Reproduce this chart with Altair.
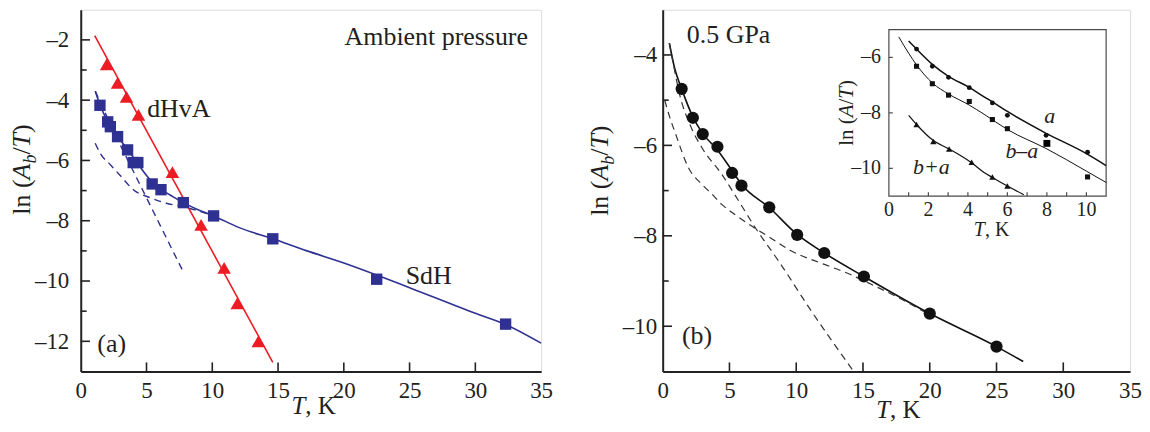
import altair as alt
import pandas as pd

FONT = "Liberation Serif"
TXT = "#231f20"
RED = "#ec1c24"
BLUE = "#2e3192"
INK = "#111111"
DASHC = "#333333"
AXC = "#222222"

# ---------------- panel (a): ambient pressure ----------------
a_dhva_T = [1.97, 2.80, 3.48, 4.39, 6.97, 9.15, 10.90, 11.90, 13.50]
a_dhva_v = [-2.81, -3.43, -3.89, -4.49, -6.39, -8.14, -9.56, -10.74, -12.00]
a_dhva_fit_T = [1.06, 14.60]
a_dhva_fit_v = [-1.86, -12.70]
a_sdh_T = [1.46, 2.05, 2.25, 2.80, 3.56, 3.99, 4.34, 5.43, 6.10, 7.80, 10.10, 14.60, 22.50, 32.30]
a_sdh_v = [-4.17, -4.72, -4.88, -5.21, -5.65, -6.07, -6.07, -6.78, -6.97, -7.40, -7.84, -8.60, -9.94, -11.43]
a_sdh_fit_T = [1.11, 1.46, 2.10, 2.80, 3.56, 4.20, 5.00, 5.43, 6.10, 7.00, 7.80, 9.00, 10.10,
               12.00, 14.60, 17.20, 20.00, 22.50, 25.00, 30.00, 32.30, 35.00]
a_sdh_fit_v = [-3.71, -4.15, -4.75, -5.20, -5.63, -6.02, -6.50, -6.72, -6.95, -7.20, -7.40, -7.65, -7.84,
               -8.22, -8.60, -9.00, -9.40, -9.80, -10.22, -11.07, -11.44, -12.06]
a_comp1_T = [1.10, 1.60, 2.20, 2.80, 4.00, 5.00, 6.00, 7.00, 7.80]
a_comp1_v = [-3.70, -4.18, -4.74, -5.30, -6.36, -7.24, -8.12, -9.00, -9.70]
a_comp2_T = [1.10, 1.50, 2.27, 3.00, 4.00, 5.30, 6.50, 7.60, 9.00, 10.00]
a_comp2_v = [-5.43, -5.78, -6.15, -6.50, -6.97, -7.24, -7.42, -7.52, -7.68, -7.82]

a_xticks = [0, 5, 10, 15, 20, 25, 30, 35]
a_yticks = [-2, -4, -6, -8, -10, -12]
a_yminor = [-3, -5, -7, -9, -11]

# ---------------- panel (b): 0.5 GPa ----------------
b_T = [1.42, 2.26, 3.00, 4.10, 5.20, 5.90, 7.98, 10.07, 12.10, 15.07, 20.00, 25.00]
b_v = [-4.75, -5.39, -5.75, -6.03, -6.61, -6.89, -7.37, -7.98, -8.38, -8.90, -9.72, -10.45]
b_fit_T = [0.50, 0.90, 1.42, 2.26, 3.00, 4.10, 5.20, 5.90, 8.00, 10.07, 12.10, 15.07, 20.00, 25.00, 27.00]
b_fit_v = [-3.74, -4.30, -4.75, -5.37, -5.74, -6.10, -6.56, -6.86, -7.38, -7.97, -8.38, -8.90, -9.72, -10.45, -10.78]
b_comp1_T = [0.50, 0.80, 1.20, 2.16, 3.00, 4.40, 5.67, 7.00, 8.66, 11.10, 14.30]
b_comp1_v = [-3.75, -4.20, -4.79, -5.62, -6.08, -6.63, -7.22, -7.85, -8.55, -9.65, -11.00]
b_comp2_T = [0.15, 0.50, 0.97, 1.94, 3.00, 3.66, 4.40, 5.50, 7.00, 8.00, 9.60, 12.00, 13.60, 16.10, 18.00, 20.00]
b_comp2_v = [-5.00, -5.35, -5.75, -6.50, -6.88, -7.07, -7.30, -7.55, -7.85, -8.03, -8.33, -8.62, -8.80, -9.14, -9.42, -9.75]

b_xticks = [0, 5, 10, 15, 20, 25, 30, 35]
b_yticks = [-4, -6, -8, -10]
b_yminor = [-5, -7, -9]

# ---------------- inset of panel (b) ----------------
i_a_T = [1.40, 2.20, 3.02, 4.07, 5.24, 6.00, 7.96, 10.06]
i_a_v = [-5.70, -6.32, -6.72, -7.09, -7.64, -8.09, -8.81, -9.42]
i_ba_T = [1.40, 2.20, 3.02, 4.07, 5.24, 6.00, 10.06]
i_ba_v = [-6.32, -6.95, -7.36, -7.59, -8.24, -8.57, -10.31]
i_ba_big_T = [8.00]
i_ba_big_v = [-9.10]
i_bpa_T = [1.40, 2.25, 3.05, 4.19, 5.24, 6.00]
i_bpa_v = [-8.42, -9.03, -9.30, -9.78, -10.31, -10.64]
i_a_fit_T = [1.00, 1.40, 2.20, 3.02, 4.07, 4.82, 5.24, 6.00, 8.00, 10.00, 11.00]
i_a_fit_v = [-5.41, -5.70, -6.25, -6.68, -7.08, -7.42, -7.60, -7.95, -8.75, -9.47, -9.90]
i_ba_fit_T = [0.50, 1.00, 1.40, 2.20, 3.02, 4.07, 4.82, 6.00, 8.00, 10.00, 11.00]
i_ba_fit_v = [-5.26, -5.85, -6.27, -6.92, -7.32, -7.72, -8.05, -8.60, -9.30, -10.10, -10.51]
i_bpa_fit_T = [1.00, 1.40, 2.25, 3.05, 4.19, 4.82, 5.24, 6.00, 6.83]
i_bpa_fit_v = [-8.09, -8.42, -9.00, -9.30, -9.80, -10.15, -10.33, -10.64, -10.95]

i_xticks = [1, 2, 3, 4, 5, 6, 7, 8, 9, 10]
i_xlab_v = [0, 2, 4, 6, 8, 10]
i_xlab_t = ["0", "2", "4", "6", "8", "10"]
i_ylab_v = [-6, -8, -10]
i_ylab_t = ["\u20136", "\u20138", "\u201310"]

# ---------------- geometry ----------------
A_W, A_H = 462, 363
B_W, B_H = 469, 363
A_XD, A_YD = [0, 35], [-13, -1]
B_XD, B_YD = [0, 35], [-11, -3]
I_XD, I_YD = [0, 11], [-11, -5]
I_XR, I_YR = [227, 445], [187, 20]

UP = {'l': 278, 'n': 500, ' ': 250, '(': 333, ')': 333, '/': 278, ',': 250, 'K': 722}
IT = {'A': 611, 'b': 500, 'T': 556, 'a': 500}


def twidth(text, size, italic):
    tbl = IT if italic else UP
    return sum(tbl.get(c, 500) for c in text) * size / 1000.0


def sc(dom, rng=None):
    if rng is None:
        return alt.Scale(domain=dom, nice=False, zero=False)
    return alt.Scale(domain=dom, range=rng, nice=False, zero=False)


def pos(xd, yd, xr=None, yr=None, xaxis=None, yaxis=None):
    return dict(x=alt.X("x:Q", scale=sc(xd, xr), axis=xaxis),
                y=alt.Y("y:Q", scale=sc(yd, yr), axis=yaxis))


def df(xs, ys):
    return pd.DataFrame({"x": xs, "y": ys})


def line(xs, ys, xd, yd, color, w, dash=None, xr=None, yr=None, xaxis=None, yaxis=None):
    kw = dict(color=color, strokeWidth=w, interpolate="monotone")
    if dash:
        kw["strokeDash"] = dash
    return alt.Chart(df(xs, ys)).mark_line(**kw).encode(**pos(xd, yd, xr, yr, xaxis, yaxis))


def pts(xs, ys, xd, yd, shape, size, color, xr=None, yr=None):
    return alt.Chart(df(xs, ys)).mark_point(shape=shape, size=size, filled=True, color=color,
                                            opacity=1, strokeWidth=0.5).encode(**pos(xd, yd, xr, yr))


def label(text, x, y, xd, yd, size, align="left", italic=False, xr=None, yr=None, baseline="alphabetic"):
    d = pd.DataFrame({"x": [x], "y": [y], "t": [text]})
    return alt.Chart(d).mark_text(align=align, baseline=baseline, font=FONT, fontSize=size,
                                  fontStyle="italic" if italic else "normal", color=TXT).encode(
        text="t:N", **pos(xd, yd, xr, yr))


def rich(segs, x, y, angle, xd, yd, xr=None, yr=None):
    total = sum(twidth(t, s, it) for t, s, it, _ in segs)
    off = -total / 2.0
    out = []
    for t, s, it, sub in segs:
        d = pd.DataFrame({"x": [x], "y": [y], "t": [t]})
        out.append(alt.Chart(d).mark_text(align="left", baseline="alphabetic", angle=angle, dx=off, dy=sub,
                                          font=FONT, fontSize=s, fontStyle="italic" if it else "normal",
                                          color=TXT).encode(text="t:N", **pos(xd, yd, xr, yr)))
        off += twidth(t, s, it)
    return out


def vticks(vals, y0, y1, xd, yd, xr=None, yr=None, color=AXC, w=1.6):
    d = pd.DataFrame({"x": vals, "y": [y0] * len(vals), "y2": [y1] * len(vals)})
    return alt.Chart(d).mark_rule(color=color, strokeWidth=w).encode(
        x=alt.X("x:Q", scale=sc(xd, xr), axis=None),
        y=alt.Y("y:Q", scale=sc(yd, yr), axis=None), y2="y2:Q")


def hticks(vals, x0, x1, xd, yd, xr=None, yr=None, color=AXC, w=1.6):
    d = pd.DataFrame({"y": vals, "x": [x0] * len(vals), "x2": [x1] * len(vals)})
    return alt.Chart(d).mark_rule(color=color, strokeWidth=w).encode(
        x=alt.X("x:Q", scale=sc(xd, xr), axis=None), x2="x2:Q",
        y=alt.Y("y:Q", scale=sc(yd, yr), axis=None))


MINUS_EXPR = "datum.value < 0 ? '\u2013' + format(-datum.value, 'd') : format(datum.value, 'd')"


def xaxis(vals, pad):
    return alt.Axis(values=vals, title=None, ticks=False, tickSize=0, grid=False, labelFlush=False,
                    labelOverlap=False, labelFont=FONT, labelFontSize=23, labelColor=TXT,
                    labelPadding=pad, domainColor=AXC, domainWidth=2, labelExpr=MINUS_EXPR)


def yaxis(vals, pad):
    return alt.Axis(values=vals, title=None, ticks=False, tickSize=0, grid=False,
                    labelOverlap=False, labelFont=FONT, labelFontSize=23, labelColor=TXT,
                    labelPadding=pad, domainColor=AXC, domainWidth=2, labelExpr=MINUS_EXPR)


YT = [("ln (", 26, False, 0), ("A", 26, True, 0), ("b", 18, True, 6), ("/", 26, False, 0),
      ("T", 26, True, 0), (")", 26, False, 0)]
XT = [("T", 25, True, 0), (", K", 25, False, 0)]

# ---------------- build panel (a) ----------------
la = [
    line(a_sdh_fit_T, a_sdh_fit_v, A_XD, A_YD, BLUE, 1.6,
         xaxis=xaxis(a_xticks, 8), yaxis=yaxis(a_yticks, 12)),
    line(a_comp1_T, a_comp1_v, A_XD, A_YD, BLUE, 1.4, dash=[7, 5]),
    line(a_comp2_T, a_comp2_v, A_XD, A_YD, BLUE, 1.4, dash=[7, 5]),
    line(a_dhva_fit_T, a_dhva_fit_v, A_XD, A_YD, RED, 1.6),
    pts(a_sdh_T, a_sdh_v, A_XD, A_YD, "square", 130, BLUE),
    pts(a_dhva_T, a_dhva_v, A_XD, A_YD, "triangle-up", 185, RED),
    vticks(a_xticks[1:-1], -13, -12.70, A_XD, A_YD),
    hticks(a_yticks, 0, 0.70, A_XD, A_YD),
    hticks(a_yminor, 0, 0.45, A_XD, A_YD),
    label("Ambient pressure", 34.0, -2.18, A_XD, A_YD, 26, align="right"),
    label("dHvA", 5.05, -4.55, A_XD, A_YD, 26),
    label("SdH", 24.7, -10.11, A_XD, A_YD, 26),
    label("(a)", 1.26, -12.34, A_XD, A_YD, 26),
]
la += rich(YT, -3.86, -6.30, 270, A_XD, A_YD)
la += rich(XT, 17.7, -14.42, 0, A_XD, A_YD)
panel_a = alt.layer(*la).resolve_scale(x="independent", y="independent").properties(width=A_W, height=A_H)

# ---------------- build panel (b) ----------------
lb = [
    line(b_fit_T, b_fit_v, B_XD, B_YD, INK, 1.6, xaxis=xaxis(b_xticks, 8), yaxis=yaxis(b_yticks, 6)),
    line(b_comp1_T, b_comp1_v, B_XD, B_YD, DASHC, 1.2, dash=[7, 5]),
    line(b_comp2_T, b_comp2_v, B_XD, B_YD, DASHC, 1.2, dash=[7, 5]),
    pts(b_T, b_v, B_XD, B_YD, "circle", 150, INK),
    vticks(b_xticks[1:-1], -11, -10.80, B_XD, B_YD),
    hticks(b_yticks, 0, 0.70, B_XD, B_YD),
    hticks(b_yminor, 0, 0.45, B_XD, B_YD),
    label("0.5 GPa", 1.81, -3.73, B_XD, B_YD, 26),
    label("(b)", 1.44, -10.40, B_XD, B_YD, 26),
]
lb += rich(YT, -4.10, -6.56, 270, B_XD, B_YD)
lb += rich(XT, 17.65, -12.04, 0, B_XD, B_YD)

# inset
frame = alt.Chart(pd.DataFrame({"x": [0], "x2": [11], "y": [-11], "y2": [-5]})).mark_rect(
    fill="white", stroke="#4a4a4a", strokeWidth=1.2).encode(
    x=alt.X("x:Q", scale=sc(I_XD, I_XR), axis=None), x2="x2:Q",
    y=alt.Y("y:Q", scale=sc(I_YD, I_YR), axis=None), y2="y2:Q")
lb += [
    frame,
    vticks(i_xticks, -11, -10.86, I_XD, I_YD, I_XR, I_YR, "#4a4a4a", 1.2),
    hticks(i_ylab_v, 0, 0.2, I_XD, I_YD, I_XR, I_YR, "#4a4a4a", 1.2),
    line(i_a_fit_T, i_a_fit_v, I_XD, I_YD, INK, 1.5, xr=I_XR, yr=I_YR),
    line(i_ba_fit_T, i_ba_fit_v, I_XD, I_YD, INK, 1.0, xr=I_XR, yr=I_YR),
    line(i_bpa_fit_T, i_bpa_fit_v, I_XD, I_YD, INK, 1.2, xr=I_XR, yr=I_YR),
    pts(i_a_T, i_a_v, I_XD, I_YD, "circle", 24, INK, I_XR, I_YR),
    pts(i_ba_T, i_ba_v, I_XD, I_YD, "square", 26, INK, I_XR, I_YR),
    pts(i_ba_big_T, i_ba_big_v, I_XD, I_YD, "square", 48, "#000000", I_XR, I_YR),
    pts(i_bpa_T, i_bpa_v, I_XD, I_YD, "triangle-up", 40, INK, I_XR, I_YR),
    label("a", 8.14, -8.36, I_XD, I_YD, 22, align="center", italic=True, xr=I_XR, yr=I_YR),
    label("b\u2013a", 6.73, -9.61, I_XD, I_YD, 22, align="center", italic=True, xr=I_XR, yr=I_YR),
    label("b+a", 2.15, -10.20, I_XD, I_YD, 22, align="center", italic=True, xr=I_XR, yr=I_YR),
    alt.Chart(pd.DataFrame({"x": i_xlab_v, "y": [-11.72] * len(i_xlab_v), "t": i_xlab_t})).mark_text(
        align="center", baseline="alphabetic", font=FONT, fontSize=20, color=TXT).encode(
        text="t:N", **pos(I_XD, I_YD, I_XR, I_YR)),
    alt.Chart(pd.DataFrame({"x": [-0.4] * len(i_ylab_v), "y": i_ylab_v, "t": i_ylab_t})).mark_text(
        align="right", baseline="middle", font=FONT, fontSize=20, color=TXT).encode(
        text="t:N", **pos(I_XD, I_YD, I_XR, I_YR)),
]
lb += rich([("ln (", 21, False, 0), ("A", 21, True, 0), ("/", 21, False, 0), ("T", 21, True, 0),
            (")", 21, False, 0)], -1.80, -8.0, 270, I_XD, I_YD, I_XR, I_YR)
lb += rich([("T", 20, True, 0), (", K", 20, False, 0)], 5.2, -12.45, 0, I_XD, I_YD, I_XR, I_YR)

panel_b = alt.layer(*lb).resolve_scale(x="independent", y="independent").properties(width=B_W, height=B_H)

chart = alt.hconcat(panel_a, panel_b, spacing=122, bounds="flush",
                    padding={"left": 0, "top": 0, "right": 0, "bottom": 0}).configure_view(
    stroke=AXC, strokeWidth=2).configure(background="white")

chart.save("out.html", embed_options={"renderer": "svg", "actions": False})
